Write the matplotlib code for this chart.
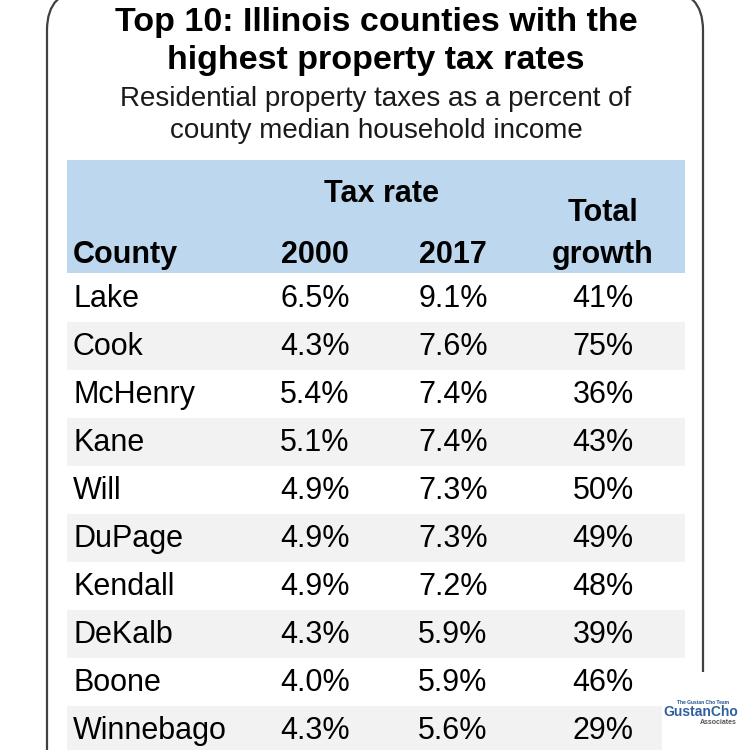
import matplotlib.pyplot as plt
from matplotlib.patches import FancyBboxPatch, Rectangle

# Table data
counties = ['Lake', 'Cook', 'McHenry', 'Kane', 'Will', 'DuPage', 'Kendall',
            'DeKalb', 'Boone', 'Winnebago']
rate_2000 = [6.5, 4.3, 5.4, 5.1, 4.9, 4.9, 4.9, 4.3, 4.0, 4.3]
rate_2017 = [9.1, 7.6, 7.4, 7.4, 7.3, 7.3, 7.2, 5.9, 5.9, 5.6]
growth = [41, 75, 36, 43, 50, 49, 48, 39, 46, 29]

title_lines = ['Top 10: Illinois counties with the', 'highest property tax rates']
subtitle_lines = ['Residential property taxes as a percent of',
                  'county median household income']

plt.rcParams['font.family'] = ['Liberation Sans', 'DejaVu Sans']

fig = plt.figure(figsize=(7.5, 7.5), dpi=100)
ax = fig.add_axes([0, 0, 1, 1])
ax.set_xlim(0, 750)
ax.set_ylim(750, 0)
ax.axis('off')

# rounded frame round the whole graphic
frame = FancyBboxPatch((47, -10), 656, 800, boxstyle='round,pad=0,rounding_size=40',
                       fc='white', ec='#404040', lw=1.6)
ax.add_patch(frame)

# titles
for yy, line in zip([22, 61], title_lines):
    ax.text(376, yy, line, ha='center', va='center', fontsize=24.5,
            fontweight='bold', color='black')
for yy, line in zip([99, 131], subtitle_lines):
    ax.text(376, yy, line, ha='center', va='center', fontsize=20,
            color='#1a1a1a')

# header band
x0, x1 = 67, 685
ax.add_patch(Rectangle((x0, 160), x1 - x0, 113, fc='#bdd7ee', ec='none'))
hdr = dict(fontsize=22, fontweight='bold', va='center', color='black')
ax.text(381, 194, 'Tax rate', ha='center', **hdr)
ax.text(603, 213, 'Total', ha='center', **hdr)
ax.text(73, 255, 'County', ha='left', **hdr)
ax.text(315, 255, '2000', ha='center', **hdr)
ax.text(453, 255, '2017', ha='center', **hdr)
ax.text(603, 255, 'growth', ha='center', **hdr)

# data rows
row_top = 274
row_h = 48.0
for i, name in enumerate(counties):
    yc = row_top + row_h * (i + 0.5) + 1
    if i % 2 == 1:
        ax.add_patch(Rectangle((x0, row_top + row_h * i), x1 - x0, row_h,
                               fc='#f2f2f2', ec='none'))
    cell = dict(fontsize=22, va='center', color='black')
    ax.text(73, yc, name, ha='left', **cell)
    ax.text(315, yc, f'{rate_2000[i]:.1f}%', ha='center', **cell)
    ax.text(453, yc, f'{rate_2017[i]:.1f}%', ha='center', **cell)
    ax.text(603, yc, f'{growth[i]}%', ha='center', **cell)

# logo corner
ax.add_patch(Rectangle((662, 672), 88, 78, fc='white', ec='none'))
ax.text(703, 703, 'The Gustan Cho Team', ha='center', va='center', fontsize=3.5,
        fontweight='bold', color='#1f4e8c')
ax.text(701, 712, 'GustanCho', ha='center', va='center', fontsize=10,
        fontweight='bold', color='#2f5f9e')
ax.text(718, 723, 'Associates', ha='center', va='center', fontsize=5,
        fontweight='bold', color='#555555')

fig.savefig('out.png', dpi=100)
